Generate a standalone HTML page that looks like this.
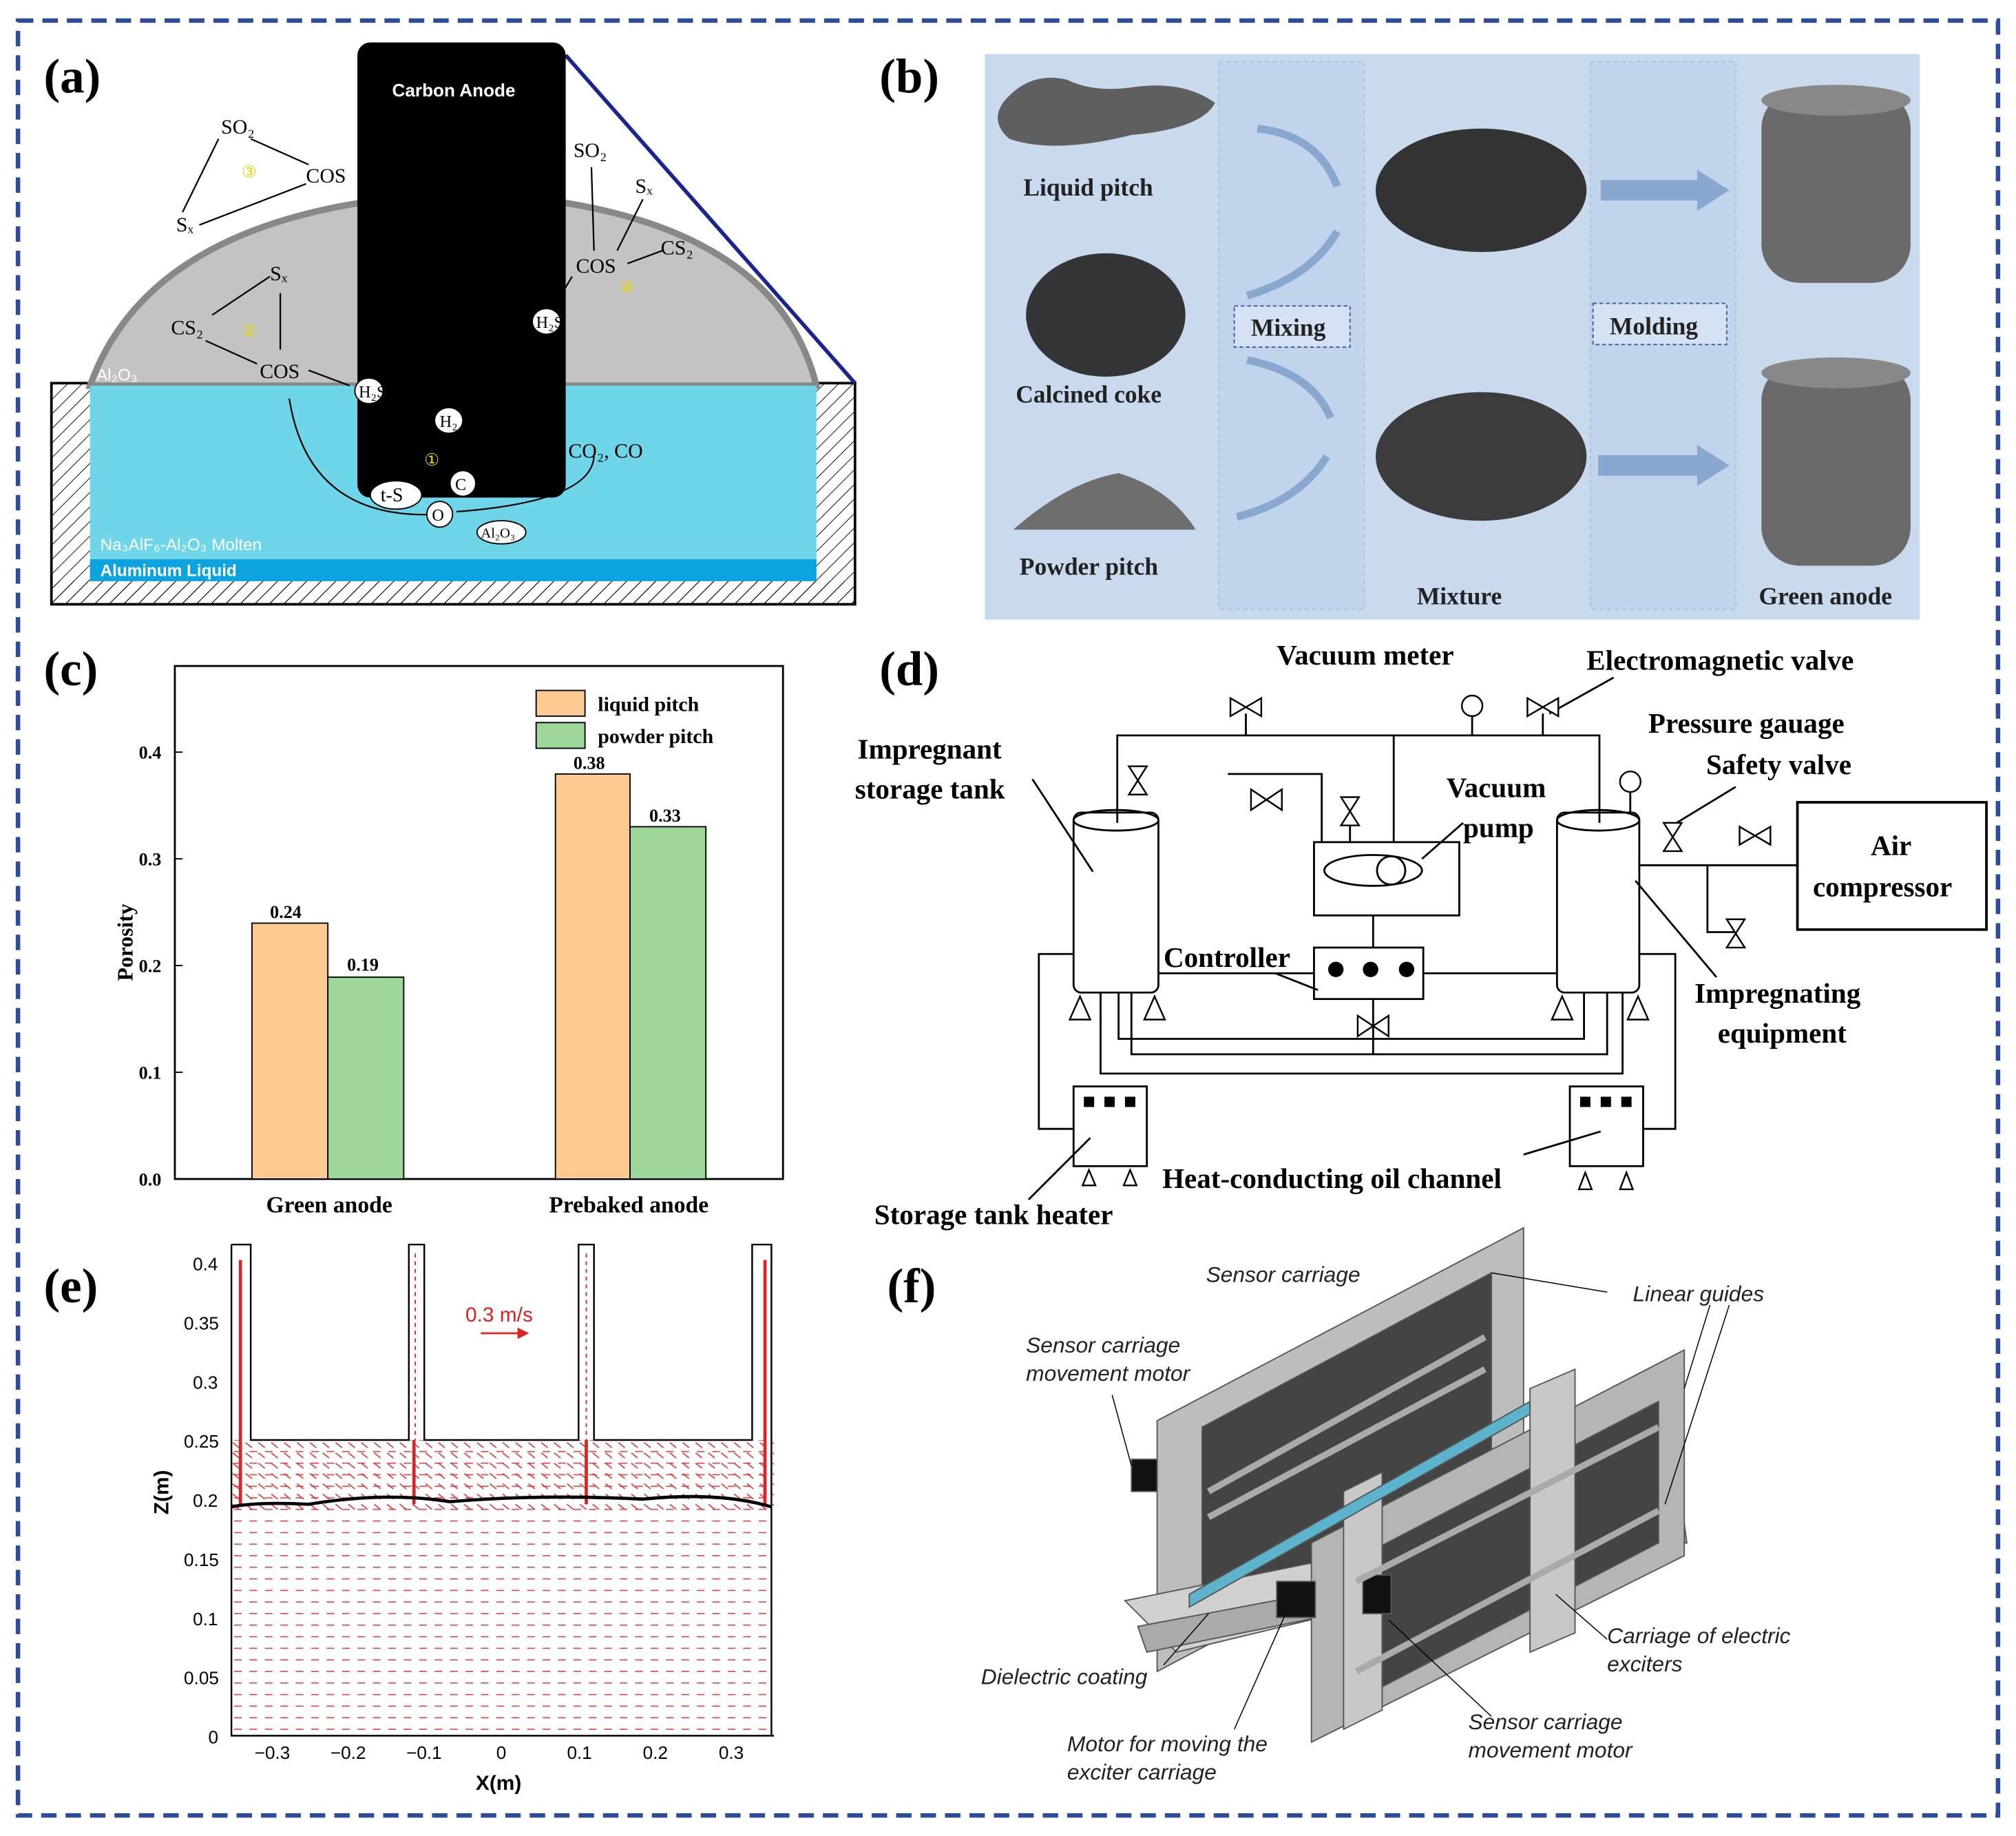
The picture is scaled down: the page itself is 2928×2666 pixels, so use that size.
<!DOCTYPE html>
<html><head><meta charset="utf-8"><style>
html,body{margin:0;padding:0;background:#fff;}
svg{display:block;}
text{font-family:"Liberation Serif",serif;}
.s text, text.s{font-family:"Liberation Sans",sans-serif;}
</style></head><body>
<svg width="2928" height="2666" viewBox="0 0 1568 1428" preserveAspectRatio="none" xmlns="http://www.w3.org/2000/svg">
<defs>
<pattern id="hatch" width="8" height="8" patternUnits="userSpaceOnUse" patternTransform="rotate(45)">
<line x1="0" y1="0" x2="0" y2="8" stroke="#000" stroke-width="1"/></pattern>
<pattern id="vec" width="12" height="9" patternUnits="userSpaceOnUse">
<line x1="2" y1="4" x2="8" y2="4" stroke="#d33" stroke-width="0.8"/></pattern>
<pattern id="vec2" width="10" height="8" patternUnits="userSpaceOnUse">
<line x1="1" y1="2" x2="6" y2="6" stroke="#d33" stroke-width="0.9"/></pattern>
<marker id="ar2" markerWidth="6" markerHeight="6" refX="5" refY="3" orient="auto"><path d="M0,0L6,3L0,6z" fill="#d22"/></marker>
</defs>
<rect width="1568" height="1428" fill="#fff"/>
<rect x="14" y="16" width="1540" height="1396" fill="none" stroke="#2d4d9c" stroke-width="3.5" stroke-dasharray="12,7"/>

<!-- (a) -->
<text x="34" y="72" font-size="38" font-weight="bold">(a)</text>
<rect x="40" y="298" width="625" height="172" fill="url(#hatch)" stroke="#000" stroke-width="2"/>
<path d="M70,300 Q120,160 360,150 Q600,160 635,300 Z" fill="#c3c3c3" stroke="#888" stroke-width="5"/>
<rect x="70" y="300" width="565" height="152" fill="#6fd6ea"/>
<rect x="70" y="435" width="565" height="17" fill="#0da3df"/>
<rect x="40" y="452" width="625" height="18" fill="url(#hatch)"/>
<line x1="440" y1="43" x2="665" y2="298" stroke="#1a2590" stroke-width="3"/>
<rect x="278" y="33" width="162" height="354" rx="10" fill="#000"/>
<g class="s">
<text x="305" y="75" font-size="14" fill="#fff" font-weight="bold">Carbon Anode</text>
<text x="75" y="296" font-size="13" fill="#fff">Al₂O₃</text>
<text x="78" y="428" font-size="13" fill="#fff">Na₃AlF₆-Al₂O₃ Molten</text>
<text x="78" y="448" font-size="13" fill="#fff" font-weight="bold">Aluminum Liquid</text>
</g>
<g font-size="16">
<text x="172" y="104">SO₂</text><text x="238" y="142">COS</text><text x="137" y="180">Sₓ</text>
<text x="210" y="218">Sₓ</text><text x="133" y="260">CS₂</text><text x="202" y="294">COS</text>
<text x="446" y="122">SO₂</text><text x="494" y="150">Sₓ</text><text x="514" y="198">CS₂</text><text x="448" y="212">COS</text>
<text x="442" y="356">CO₂, CO</text>
</g>
<g fill="#e8d800" font-size="13"><text x="188" y="138">③</text><text x="188" y="262">②</text><text x="482" y="228">④</text><text x="330" y="362">①</text></g>
<g stroke="#000" stroke-width="1.2" fill="none">
<line x1="195" y1="108" x2="240" y2="128"/><line x1="170" y1="108" x2="142" y2="165"/><line x1="155" y1="175" x2="238" y2="143"/>
<line x1="165" y1="245" x2="210" y2="215"/><line x1="218" y1="228" x2="218" y2="272"/><line x1="160" y1="265" x2="200" y2="283"/>
<line x1="240" y1="288" x2="272" y2="300"/>
<line x1="460" y1="130" x2="462" y2="195"/><line x1="480" y1="195" x2="500" y2="155"/><line x1="488" y1="205" x2="515" y2="195"/>
<path d="M426,240 Q415,120 440,115"/><path d="M445,215 L430,240"/>
<path d="M320,380 Q320,340 345,330"/><path d="M225,310 Q240,405 340,400"/><path d="M355,398 Q460,390 462,355"/>
</g>
<g font-size="13" stroke="#000" stroke-width="1">
<ellipse cx="287" cy="304" rx="11" ry="10" fill="#fff"/><text x="279" y="309" stroke="none">H₂S</text>
<ellipse cx="425" cy="250" rx="11" ry="10" fill="#fff"/><text x="417" y="255" stroke="none">H₂S</text>
<ellipse cx="349" cy="327" rx="11" ry="10" fill="#fff"/><text x="342" y="332" stroke="none">H₂</text>
<ellipse cx="360" cy="376" rx="10" ry="10" fill="#fff"/><text x="354" y="381" stroke="none">C</text>
<ellipse cx="308" cy="385" rx="20" ry="11" fill="#fff"/><text x="296" y="390" stroke="none" font-size="15">t-S</text>
<ellipse cx="342" cy="400" rx="10" ry="10" fill="#fff"/><text x="336" y="405" stroke="none">O</text>
<ellipse cx="390" cy="414" rx="19" ry="9" fill="#fff"/><text x="374" y="418" stroke="none" font-size="11">Al₂O₃</text>
</g>

<!-- (b) -->
<text x="684" y="72" font-size="38" font-weight="bold">(b)</text>
<rect x="766" y="42" width="727" height="440" fill="#c9d9ee"/>
<rect x="948" y="48" width="113" height="426" fill="#c2d3ec" stroke="#a9c0e0" stroke-dasharray="3,3"/>
<rect x="1237" y="48" width="113" height="426" fill="#c2d3ec" stroke="#a9c0e0" stroke-dasharray="3,3"/>
<path d="M780,80 Q800,55 830,62 Q850,72 880,68 Q920,62 945,80 Q935,100 880,105 Q820,120 785,108 Q770,95 780,80Z" fill="#5f5f5f"/>
<ellipse cx="860" cy="245" rx="62" ry="48" fill="#222" opacity="0.9"/>
<path d="M788,412 Q830,375 870,368 Q910,380 930,412Z" fill="#6e6e6e"/>
<ellipse cx="1152" cy="148" rx="82" ry="48" fill="#333"/>
<ellipse cx="1152" cy="355" rx="82" ry="50" fill="#3c3c3c"/>
<rect x="1370" y="70" width="116" height="150" rx="30" fill="#6a6a6a"/><ellipse cx="1428" cy="78" rx="58" ry="12" fill="#888"/>
<rect x="1370" y="282" width="116" height="158" rx="30" fill="#6a6a6a"/><ellipse cx="1428" cy="290" rx="58" ry="12" fill="#888"/>
<g fill="#8aa7cf"><path d="M1245,140 L1320,140 L1320,132 L1345,148 L1320,164 L1320,156 L1245,156Z"/>
<path d="M1243,354 L1320,354 L1320,346 L1345,362 L1320,378 L1320,370 L1243,370Z"/></g>
<g stroke="#8aa7cf" stroke-width="6" fill="none"><path d="M978,100 Q1025,105 1040,145"/><path d="M970,230 Q1020,215 1040,180"/><path d="M970,280 Q1020,290 1035,325"/><path d="M962,402 Q1010,390 1032,355"/></g>
<rect x="960" y="238" width="90" height="32" fill="#d5e2f3" stroke="#3a5a9a" stroke-dasharray="3,2"/>
<rect x="1239" y="236" width="104" height="32" fill="#d5e2f3" stroke="#3a5a9a" stroke-dasharray="3,2"/>
<g font-size="19" font-weight="bold" fill="#222">
<text x="796" y="152">Liquid pitch</text><text x="790" y="313">Calcined coke</text><text x="793" y="447">Powder pitch</text>
<text x="973" y="261">Mixing</text><text x="1252" y="260">Molding</text><text x="1102" y="470">Mixture</text><text x="1368" y="470">Green anode</text></g>

<!-- (c) -->
<text x="34" y="533" font-size="38" font-weight="bold">(c)</text>
<rect x="136" y="518" width="473" height="399" fill="none" stroke="#000" stroke-width="1.5"/>
<g font-size="14" font-weight="bold">
<text x="108" y="922">0.0</text><text x="108" y="839">0.1</text><text x="108" y="756">0.2</text><text x="108" y="673">0.3</text><text x="108" y="590">0.4</text>
<text transform="translate(103,763) rotate(-90)" font-size="17">Porosity</text></g>
<g stroke="#000"><line x1="136" y1="834" x2="142" y2="834"/><line x1="136" y1="751" x2="142" y2="751"/><line x1="136" y1="668" x2="142" y2="668"/><line x1="136" y1="585" x2="142" y2="585"/></g>
<g stroke="#000" stroke-width="1">
<rect x="196" y="718" width="59" height="199" fill="#fdca92"/><rect x="255" y="760" width="59" height="157" fill="#9dd89a"/>
<rect x="432" y="602" width="58" height="315" fill="#fdca92"/><rect x="490" y="643" width="59" height="274" fill="#9dd89a"/>
<rect x="417" y="537" width="38" height="20" fill="#fdca92"/><rect x="417" y="562" width="38" height="20" fill="#9dd89a"/></g>
<g font-size="14" font-weight="bold"><text x="210" y="714">0.24</text><text x="270" y="755">0.19</text><text x="446" y="598">0.38</text><text x="505" y="639">0.33</text>
<text x="465" y="553" font-size="16">liquid pitch</text><text x="465" y="578" font-size="16">powder pitch</text>
<text x="207" y="943" font-size="18">Green anode</text><text x="427" y="943" font-size="18">Prebaked anode</text></g>

<!-- (d) -->
<text x="684" y="533" font-size="38" font-weight="bold">(d)</text>
<g stroke="#000" stroke-width="1.5" fill="none">
<polyline points="869,640 869,572 1244,572 1244,640"/>
<line x1="1084" y1="572" x2="1084" y2="655"/><line x1="1145" y1="555" x2="1145" y2="572"/><line x1="969" y1="555" x2="969" y2="572"/><line x1="1200" y1="555" x2="1200" y2="572"/>
<polyline points="955,602 1028,602 1028,655"/><line x1="1050" y1="620" x2="1050" y2="655"/>
<rect x="835" y="632" width="66" height="140" rx="6"/><ellipse cx="868" cy="638" rx="33" ry="8"/>
<rect x="1211" y="632" width="64" height="140" rx="6"/><ellipse cx="1243" cy="638" rx="32" ry="8"/>
<rect x="1022" y="655" width="113" height="57"/><ellipse cx="1068" cy="677" rx="38" ry="12"/><circle cx="1082" cy="677" r="11"/>
<rect x="1022" y="737" width="85" height="40"/><line x1="1068" y1="712" x2="1068" y2="737"/>
<line x1="1107" y1="757" x2="1211" y2="757"/><line x1="901" y1="757" x2="1022" y2="757"/>
<polyline points="1068,777 1068,820"/>
<polyline points="870,772 870,808 1232,808 1232,772"/><polyline points="880,772 880,820 1250,820 1250,772"/><polyline points="856,772 856,835 1262,835 1262,772"/>
<polyline points="835,742 808,742 808,878 835,878"/><polyline points="1275,742 1303,742 1303,878 1278,878"/>
<rect x="835" y="845" width="57" height="62"/><rect x="1221" y="845" width="57" height="62"/>
<line x1="1275" y1="673" x2="1398" y2="673"/><line x1="1268" y1="614" x2="1268" y2="632"/>
<polyline points="1328,673 1328,725 1350,725"/>
<rect x="1398" y="624" width="147" height="99" stroke-width="2"/>
<line x1="803" y1="606" x2="850" y2="678"/><line x1="1106" y1="668" x2="1138" y2="640"/><line x1="992" y1="757" x2="1025" y2="770"/>
<line x1="1272" y1="685" x2="1335" y2="760"/><line x1="800" y1="933" x2="848" y2="885"/><line x1="1185" y1="898" x2="1245" y2="880"/>
<line x1="1205" y1="555" x2="1255" y2="527"/><line x1="1304" y1="640" x2="1350" y2="612"/>
</g>
<g fill="#000">
<rect x="843" y="853" width="8" height="8"/><rect x="859" y="853" width="8" height="8"/><rect x="875" y="853" width="8" height="8"/>
<rect x="1229" y="853" width="8" height="8"/><rect x="1245" y="853" width="8" height="8"/><rect x="1261" y="853" width="8" height="8"/>
<circle cx="1039" cy="754" r="6"/><circle cx="1066" cy="754" r="6"/><circle cx="1094" cy="754" r="6"/></g>
<g stroke="#000" stroke-width="1.3" fill="#fff">
<path d="M957,543 L981,557 L981,543 L957,557Z"/><path d="M1188,543 L1212,557 L1212,543 L1188,557Z"/>
<path d="M878,596 L892,596 L878,618 L892,618Z"/><path d="M1043,620 L1057,620 L1043,642 L1057,642Z"/>
<path d="M973,614 L997,630 L997,614 L973,630Z"/><path d="M1353,643 L1377,657 L1377,643 L1353,657Z"/>
<path d="M1294,640 L1308,640 L1294,662 L1308,662Z"/><path d="M1343,715 L1357,715 L1343,737 L1357,737Z"/>
<path d="M1056,790 L1080,806 L1080,790 L1056,806Z"/>
<circle cx="1145" cy="549" r="8"/><circle cx="1268" cy="608" r="8"/>
<path d="M832,793 L840,775 L848,793Z"/><path d="M890,793 L898,775 L906,793Z"/><path d="M1207,793 L1215,775 L1223,793Z"/><path d="M1266,793 L1274,775 L1282,793Z"/>
<path d="M842,922 L847,910 L852,922Z"/><path d="M874,922 L879,910 L884,922Z"/><path d="M1228,925 L1233,912 L1238,925Z"/><path d="M1260,925 L1265,912 L1270,925Z"/></g>
<g font-size="22" font-weight="bold">
<text x="993" y="517">Vacuum meter</text><text x="1234" y="521">Electromagnetic valve</text>
<text x="1282" y="570">Pressure gauage</text><text x="1327" y="602">Safety valve</text>
<text x="667" y="590">Impregnant</text><text x="665" y="621">storage tank</text>
<text x="1125" y="620">Vacuum</text><text x="1138" y="651">pump</text>
<text x="1455" y="665">Air</text><text x="1410" y="697">compressor</text>
<text x="905" y="752">Controller</text>
<text x="1318" y="780">Impregnating</text><text x="1336" y="811">equipment</text>
<text x="904" y="924">Heat-conducting oil channel</text><text x="680" y="952">Storage tank heater</text></g>

<!-- (e) -->
<text x="34" y="1013" font-size="38" font-weight="bold">(e)</text>
<rect x="180" y="1120" width="422" height="230" fill="url(#vec)"/>
<rect x="180" y="1120" width="422" height="55" fill="url(#vec2)"/>
<g stroke="#d22" stroke-width="2.5"><line x1="322" y1="1120" x2="322" y2="1170"/><line x1="456" y1="1120" x2="456" y2="1170"/><line x1="187" y1="980" x2="187" y2="1170"/><line x1="595" y1="980" x2="595" y2="1170"/></g>
<g stroke="#d22" stroke-width="1" stroke-dasharray="3,3"><line x1="323" y1="975" x2="323" y2="1120"/><line x1="456" y1="975" x2="456" y2="1120"/></g>
<path d="M180,968 L195,968 L195,1120 L318,1120 L318,968 L330,968 L330,1120 L450,1120 L450,968 L462,968 L462,1120 L585,1120 L585,968 L600,968 L600,1350" fill="none" stroke="#000" stroke-width="1.3"/>
<path d="M180,1172 Q200,1168 240,1170 Q300,1160 350,1168 Q420,1162 500,1166 Q560,1160 600,1172" fill="none" stroke="#000" stroke-width="2.5"/>
<g stroke="#000" stroke-width="1.3" fill="none"><polyline points="180,968 180,1350 602,1350"/></g>
<g class="s" font-size="14">
<text x="150" y="988">0.4</text><text x="143" y="1034">0.35</text><text x="150" y="1080">0.3</text><text x="143" y="1126">0.25</text><text x="150" y="1172">0.2</text>
<text x="143" y="1218">0.15</text><text x="150" y="1264">0.1</text><text x="143" y="1310">0.05</text><text x="162" y="1356">0</text>
<text x="198" y="1368">−0.3</text><text x="257" y="1368">−0.2</text><text x="316" y="1368">−0.1</text><text x="386" y="1368">0</text><text x="441" y="1368">0.1</text><text x="500" y="1368">0.2</text><text x="559" y="1368">0.3</text>
<text x="370" y="1392" font-weight="bold" font-size="16">X(m)</text>
<text transform="translate(131,1178) rotate(-90)" font-weight="bold" font-size="16">Z(m)</text>
<text x="362" y="1028" fill="#d22" font-size="16">0.3 m/s</text></g>
<line x1="374" y1="1037" x2="410" y2="1037" stroke="#d22" stroke-width="1.5" marker-end="url(#ar2)"/>

<!-- (f) -->
<text x="690" y="1013" font-size="38" font-weight="bold">(f)</text>
<g stroke="#555" stroke-width="1">
<polygon points="900,1105 1185,955 1185,1150 900,1300" fill="#bdbdbd"/>
<polygon points="935,1110 1160,990 1160,1140 935,1265" fill="#444"/>
<polygon points="875,1245 1270,1165 1310,1190 915,1285" fill="#d0d0d0"/>
<polygon points="885,1265 1310,1185 1312,1200 892,1285" fill="#aaa"/>
<polygon points="1020,1200 1310,1050 1310,1210 1020,1355" fill="#b5b5b5"/>
<polygon points="1050,1215 1290,1090 1290,1200 1050,1325" fill="#444"/>
<polygon points="1190,1080 1225,1065 1225,1270 1190,1285" fill="#c8c8c8"/>
<polygon points="1045,1160 1075,1145 1075,1330 1045,1345" fill="#c8c8c8"/>
<polygon points="925,1240 1190,1090 1190,1100 925,1250" fill="#5bb3cc"/>
<rect x="993" y="1230" width="30" height="28" fill="#111"/><rect x="1060" y="1225" width="22" height="30" fill="#111"/>
<rect x="880" y="1135" width="20" height="25" fill="#111"/>
<line x1="940" y1="1160" x2="1155" y2="1040" stroke="#aaa" stroke-width="5"/><line x1="940" y1="1180" x2="1155" y2="1065" stroke="#aaa" stroke-width="5"/>
<line x1="1055" y1="1230" x2="1290" y2="1110" stroke="#aaa" stroke-width="5"/><line x1="1055" y1="1300" x2="1290" y2="1175" stroke="#aaa" stroke-width="5"/>
</g>
<g stroke="#000" stroke-width="0.8"><line x1="1250" y1="1005" x2="1160" y2="990"/><line x1="1330" y1="1015" x2="1310" y2="1080"/><line x1="1345" y1="1015" x2="1295" y2="1170"/>
<line x1="865" y1="1085" x2="880" y2="1140"/><line x1="905" y1="1295" x2="940" y2="1255"/><line x1="960" y1="1345" x2="1000" y2="1255"/>
<line x1="1160" y1="1335" x2="1080" y2="1260"/><line x1="1250" y1="1275" x2="1210" y2="1240"/></g>
<g class="s" font-size="17" font-style="italic" fill="#222">
<text x="938" y="997">Sensor carriage</text><text x="1270" y="1012">Linear guides</text>
<text x="798" y="1052">Sensor carriage</text><text x="798" y="1074">movement motor</text>
<text x="1250" y="1278">Carriage of electric</text><text x="1250" y="1300">exciters</text>
<text x="763" y="1310">Dielectric coating</text>
<text x="1142" y="1345">Sensor carriage</text><text x="1142" y="1367">movement motor</text>
<text x="830" y="1362">Motor for moving the</text><text x="830" y="1384">exciter carriage</text></g>
</svg>
</body></html>
